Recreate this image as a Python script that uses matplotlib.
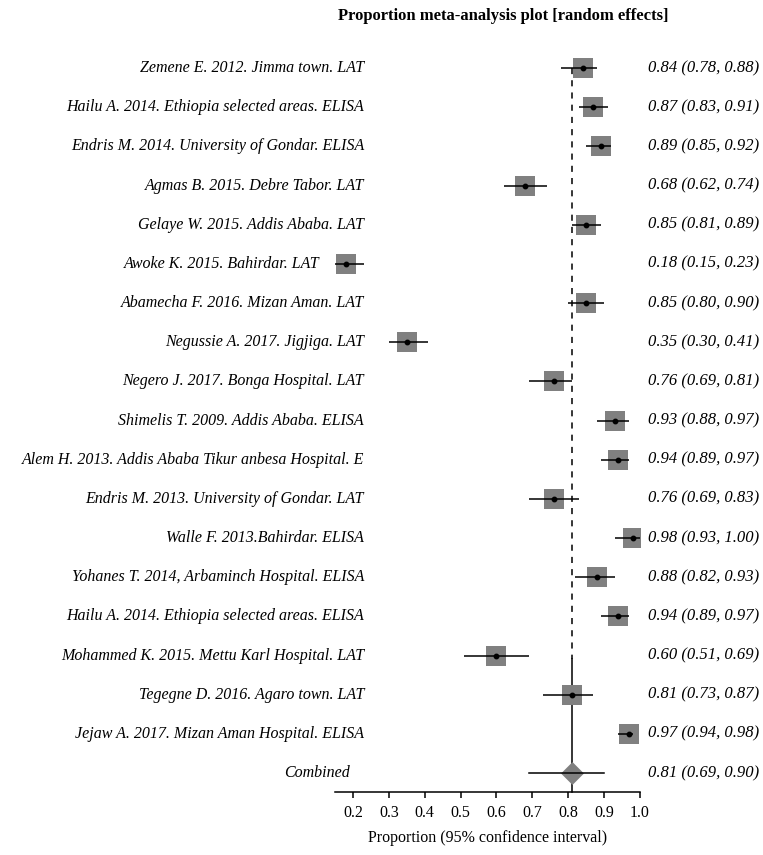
import matplotlib
matplotlib.use("Agg")
import matplotlib.pyplot as plt
from matplotlib.transforms import blended_transform_factory

studies = [
    "Zemene E. 2012. Jimma town. LAT",
    "Hailu A. 2014. Ethiopia selected areas. ELISA",
    "Endris M. 2014. University of Gondar. ELISA",
    "Agmas B. 2015. Debre Tabor. LAT",
    "Gelaye W. 2015. Addis Ababa. LAT",
    "Awoke K. 2015. Bahirdar. LAT",
    "Abamecha F. 2016. Mizan Aman. LAT",
    "Negussie A. 2017. Jigjiga. LAT",
    "Negero J. 2017. Bonga Hospital. LAT",
    "Shimelis T. 2009. Addis Ababa. ELISA",
    "Alem H. 2013. Addis Ababa Tikur anbesa Hospital. E",
    "Endris M. 2013. University of Gondar. LAT",
    "Walle F. 2013.Bahirdar. ELISA",
    "Yohanes T. 2014, Arbaminch Hospital. ELISA",
    "Hailu A. 2014. Ethiopia selected areas. ELISA",
    "Mohammed K. 2015. Mettu Karl Hospital. LAT",
    "Tegegne D. 2016. Agaro town. LAT",
    "Jejaw A. 2017. Mizan Aman Hospital. ELISA",
]
est = [0.84, 0.87, 0.89, 0.68, 0.85, 0.18, 0.85, 0.35, 0.76, 0.93,
       0.94, 0.76, 0.98, 0.88, 0.94, 0.60, 0.81, 0.97]
lo = [0.78, 0.83, 0.85, 0.62, 0.81, 0.15, 0.80, 0.30, 0.69, 0.88,
      0.89, 0.69, 0.93, 0.82, 0.89, 0.51, 0.73, 0.94]
hi = [0.88, 0.91, 0.92, 0.74, 0.89, 0.23, 0.90, 0.41, 0.81, 0.97,
      0.97, 0.83, 1.00, 0.93, 0.97, 0.69, 0.87, 0.98]
pooled_label = "Combined"
pooled_est, pooled_lo, pooled_hi = 0.81, 0.69, 0.90
xticks = [0.2, 0.3, 0.4, 0.5, 0.6, 0.7, 0.8, 0.9, 1.0]

SERIF = ["Liberation Serif", "DejaVu Serif"]
plt.rcParams["font.family"] = SERIF

W, H = 763, 855
fig = plt.figure(figsize=(W / 100, H / 100), dpi=100)

# axes in pixel geometry
ax_l, ax_r = 335, 640
ax_top, ax_bot = 45, 792
ax = fig.add_axes([ax_l / W, 1 - ax_bot / H, (ax_r - ax_l) / W, (ax_bot - ax_top) / H])

n = len(studies)
row_px = 39.17
first_px = 68
ys = [-i for i in range(n)]
y_pool = -n
ylo = y_pool - (ax_bot - (first_px + n * row_px)) / row_px
yhi = (first_px - ax_top) / row_px
ax.set_xlim(0.15, 1.0)
ax.set_ylim(ylo, yhi)

# reference lines
y_switch = -15.08
ax.plot([pooled_est, pooled_est], [0, y_switch], color="black", lw=1.1,
        linestyle=(0, (4, 4)), zorder=1)
ax.plot([pooled_est, pooled_est], [y_switch, ylo], color="black", lw=1.1,
        zorder=1, clip_on=False)

# studies
ax.plot(est, ys, linestyle="none", marker="s", markersize=15,
        color="#808080", markeredgewidth=0, zorder=2)
for e, l, h, y in zip(est, lo, hi, ys):
    ax.plot([l, h], [y, y], color="black", lw=1.1, zorder=3, solid_capstyle="butt")
ax.plot(est, ys, linestyle="none", marker="o", markersize=3.2,
        color="black", zorder=4)

# pooled
ax.plot([pooled_est], [y_pool], linestyle="none",
        marker=[(0, 1), (1, 0), (0, -1), (-1, 0)], markersize=16.5,
        color="#808080", markeredgewidth=0, zorder=2)
ax.plot([pooled_lo, pooled_hi], [y_pool, y_pool], color="black", lw=1.1, zorder=3)

# axes styling
for s in ["top", "right", "left"]:
    ax.spines[s].set_visible(False)
ax.spines["bottom"].set_linewidth(1.1)
ax.set_yticks([])
ax.set_xticks(xticks)
ax.set_xticklabels([f"{t:.1f}" for t in xticks], fontsize=11.5)
ax.tick_params(axis="x", direction="out", length=4, width=1.1, pad=5)
ax.set_xlabel("Proportion (95% confidence interval)", fontsize=11.5, labelpad=7)

# left labels (right aligned, pushed left if they collide with the marks)
px_per_unit = (ax_r - ax_l) / 0.85
def xpix(v):
    return ax_l + (v - 0.15) * px_per_unit

tr = blended_transform_factory(fig.transFigure, ax.transData)
for name, e, l, y in zip(studies, est, lo, ys):
    left_mark = min(xpix(l), xpix(e) - 11)
    right_end = min(364, left_mark - 15)
    ax.text(right_end / W, y, name, transform=tr, ha="right", va="center",
            fontsize=11.5, style="italic")
ax.text(350 / W, y_pool, pooled_label, transform=tr, ha="right", va="center",
        fontsize=11.5, style="italic")

# right labels
for e, l, h, y in zip(est, lo, hi, ys):
    ax.text(648 / W, y, f"{e:.2f} ({l:.2f}, {h:.2f})", transform=tr,
            ha="left", va="center", fontsize=12, style="italic")
ax.text(648 / W, y_pool, f"{pooled_est:.2f} ({pooled_lo:.2f}, {pooled_hi:.2f})",
        transform=tr, ha="left", va="center", fontsize=12, style="italic")

fig.text(503 / W, 1 - 16 / H, "Proportion meta-analysis plot [random effects]",
         ha="center", va="center", fontsize=12, fontweight="bold")

fig.savefig("out.png", dpi=100)
